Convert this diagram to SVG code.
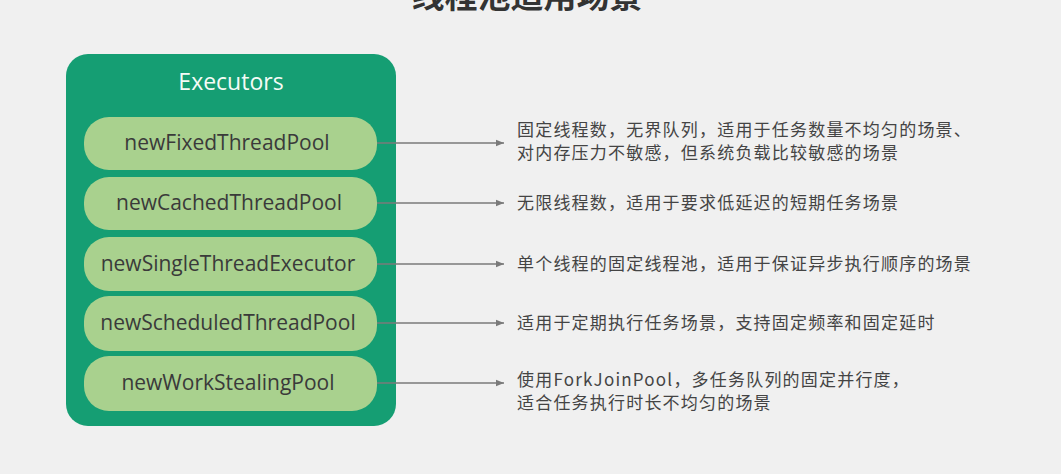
<svg xmlns="http://www.w3.org/2000/svg" width="1061" height="474" viewBox="0 0 1061 474">
  <defs>
    <marker id="arrow" viewBox="0 0 10 10" refX="10" refY="5" markerWidth="8" markerHeight="8" orient="auto" markerUnits="userSpaceOnUse">
      <path d="M0,1 L10,5 L0,9 z" fill="#7a7a7a"/>
    </marker>
    <style>
      .title { font-family: "Noto Sans CJK SC", sans-serif; font-size: 33px; fill: #333; font-weight: bold; }
      .box { fill: #159e73; }
      .head { font-family: "Open Sans", "Noto Sans", sans-serif; font-size: 23px; fill: #f4fbf6; }
      .pill { fill: #a9d18e; }
      .label { font-family: "Open Sans", "Noto Sans", sans-serif; font-size: 21px; fill: #3a3a3a; }
      .desc { font-family: "Noto Sans CJK SC", sans-serif; font-size: 17px; letter-spacing: 1.2px; fill: #444; }
      .conn { stroke: #7a7a7a; stroke-width: 1.5; fill: none; marker-end: url(#arrow); }
    </style>
  </defs>
  <rect width="1061" height="474" fill="#f0f0f0"/>
  <text class="title" x="527" y="8" text-anchor="middle">线程池适用场景</text>

  <g id="executors">
    <rect class="box" x="66" y="54" width="330" height="372" rx="22"/>
    <text class="head" x="231" y="90" text-anchor="middle">Executors</text>
  </g>

  <g id="connectors">
    <line class="conn" x1="377" y1="143" x2="504" y2="143"/>
    <line class="conn" x1="377" y1="203" x2="504" y2="203"/>
    <line class="conn" x1="377" y1="264" x2="504" y2="264"/>
    <line class="conn" x1="377" y1="323" x2="504" y2="323"/>
    <line class="conn" x1="377" y1="383" x2="504" y2="383"/>
  </g>

  <g id="fixed">
    <rect class="pill" x="84" y="117" width="293" height="53" rx="25"/>
    <text class="label" x="227" y="150" text-anchor="middle">newFixedThreadPool</text>
  </g>
  <g id="cached">
    <rect class="pill" x="84" y="177" width="293" height="53" rx="25"/>
    <text class="label" x="229" y="210" text-anchor="middle">newCachedThreadPool</text>
  </g>
  <g id="single">
    <rect class="pill" x="84" y="237" width="293" height="54" rx="25"/>
    <text class="label" x="228" y="271" text-anchor="middle">newSingleThreadExecutor</text>
  </g>
  <g id="scheduled">
    <rect class="pill" x="84" y="296" width="293" height="55" rx="25"/>
    <text class="label" x="228" y="330" text-anchor="middle">newScheduledThreadPool</text>
  </g>
  <g id="workstealing">
    <rect class="pill" x="84" y="356" width="293" height="55" rx="25"/>
    <text class="label" x="228" y="390" text-anchor="middle">newWorkStealingPool</text>
  </g>

  <g id="descriptions">
    <text class="desc" x="517" y="136">固定线程数，无界队列，适用于任务数量不均匀的场景、</text>
    <text class="desc" x="517" y="159">对内存压力不敏感，但系统负载比较敏感的场景</text>
    <text class="desc" x="517" y="209">无限线程数，适用于要求低延迟的短期任务场景</text>
    <text class="desc" x="517" y="270">单个线程的固定线程池，适用于保证异步执行顺序的场景</text>
    <text class="desc" x="517" y="329">适用于定期执行任务场景，支持固定频率和固定延时</text>
    <text class="desc" x="517" y="386">使用ForkJoinPool，多任务队列的固定并行度，</text>
    <text class="desc" x="517" y="409">适合任务执行时长不均匀的场景</text>
  </g>
</svg>
